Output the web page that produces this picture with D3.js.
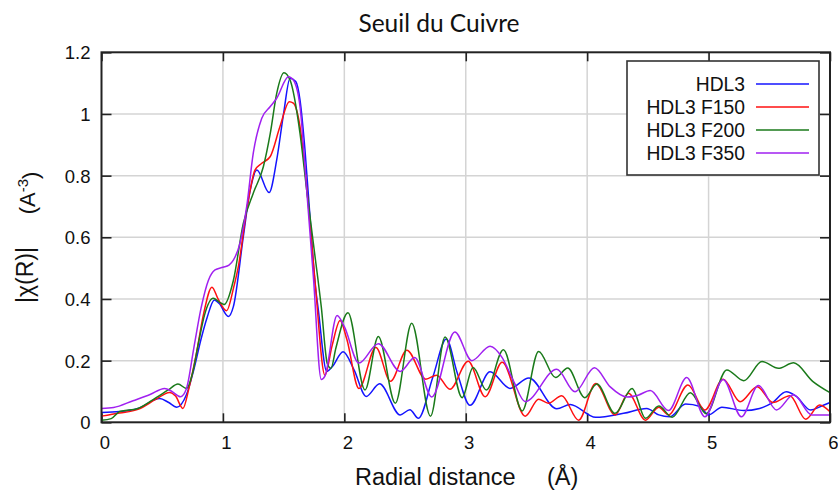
<!DOCTYPE html>
<html><head><meta charset="utf-8">
<script src="https://cdn.jsdelivr.net/npm/d3@7"></script>
<style>html,body{margin:0;padding:0;background:#fff;} svg{display:block;}</style>
</head><body>
<script>
// ---- data ----
const title = "Seuil du Cuivre";
const xTicks = [0, 1, 2, 3, 4, 5, 6];
const yTicks = [0, 0.2, 0.4, 0.6, 0.8, 1, 1.2];
const seriesNames = ["HDL3", "HDL3 F150", "HDL3 F200", "HDL3 F350"];
const seriesColors = ["#1414ff", "#ff1010", "#1a7a1a", "#a020f0"];

const hdl3R = [0,0.15,0.3,0.48,0.55,0.62,0.7,0.76,0.82,0.87,0.93,0.97,1.045,1.086,1.168,1.22,1.28,1.38,1.443,1.5,1.553,1.6,1.635,1.676,1.717,1.759,1.786,1.855,1.9,1.99,2.08,2.18,2.29,2.46,2.54,2.61,2.73,2.84,2.93,3.035,3.2,3.365,3.52,3.75,3.86,4.07,4.3,4.49,4.59,4.68,4.81,4.93,5.0,5.11,5.29,5.42,5.52,5.64,5.72,5.84,5.95,6.0];
const hdl3Y = [0.032,0.035,0.045,0.077,0.065,0.049,0.09,0.17,0.27,0.34,0.397,0.385,0.343,0.375,0.602,0.743,0.818,0.745,0.851,1.002,1.116,1.105,1.045,0.883,0.667,0.451,0.364,0.165,0.18,0.229,0.17,0.084,0.125,0.024,0.041,0.013,0.148,0.27,0.16,0.055,0.164,0.11,0.144,0.044,0.058,0.016,0.029,0.045,0.024,0.018,0.059,0.051,0.024,0.049,0.038,0.045,0.062,0.099,0.085,0.04,0.056,0.064];

const f150R = [0,0.15,0.3,0.45,0.56,0.61,0.67,0.72,0.78,0.84,0.91,0.96,1.03,1.09,1.127,1.196,1.264,1.32,1.39,1.47,1.547,1.58,1.635,1.7,1.76,1.84,1.9,1.965,2.02,2.12,2.26,2.38,2.515,2.67,2.76,2.87,3.02,3.16,3.3,3.49,3.6,3.68,3.79,3.93,4.07,4.23,4.34,4.48,4.59,4.67,4.83,4.97,5.12,5.26,5.4,5.53,5.67,5.8,5.915,6.0];
const f150Y = [0.02,0.03,0.042,0.075,0.097,0.085,0.045,0.11,0.22,0.35,0.438,0.4,0.362,0.44,0.505,0.689,0.818,0.84,0.862,0.959,1.04,1.035,0.959,0.721,0.451,0.153,0.25,0.33,0.27,0.11,0.243,0.133,0.234,0.14,0.153,0.107,0.198,0.083,0.195,0.02,0.075,0.062,0.086,0.007,0.126,0.024,0.094,0.007,0.049,0.024,0.121,0.04,0.14,0.067,0.115,0.064,0.086,0.01,0.056,0.034];

const f200R = [0,0.08,0.15,0.3,0.45,0.55,0.63,0.7,0.75,0.8,0.85,0.92,0.97,1.01,1.086,1.168,1.25,1.333,1.39,1.443,1.503,1.553,1.635,1.69,1.745,1.81,1.86,1.89,1.93,2.03,2.17,2.28,2.42,2.555,2.71,2.83,2.97,3.06,3.17,3.31,3.465,3.6,3.74,3.84,3.98,4.08,4.23,4.37,4.48,4.59,4.7,4.85,4.98,5.15,5.29,5.44,5.575,5.7,5.86,6.0];
const f200Y = [0.007,0.012,0.035,0.045,0.08,0.105,0.124,0.11,0.16,0.26,0.35,0.402,0.39,0.382,0.46,0.645,0.743,0.829,0.937,1.067,1.134,1.11,0.937,0.753,0.58,0.375,0.19,0.175,0.24,0.355,0.105,0.278,0.062,0.321,0.02,0.277,0.08,0.178,0.105,0.235,0.037,0.23,0.145,0.176,0.08,0.124,0.029,0.11,0.013,0.053,0.016,0.096,0.028,0.17,0.135,0.197,0.175,0.193,0.132,0.096];

const f350R = [0,0.1,0.26,0.4,0.52,0.58,0.65,0.7,0.76,0.82,0.88,0.935,1.0,1.05,1.086,1.14,1.196,1.25,1.32,1.39,1.443,1.54,1.58,1.635,1.69,1.745,1.81,1.84,1.94,2.0,2.12,2.28,2.46,2.58,2.72,2.91,3.05,3.2,3.3,3.39,3.49,3.75,3.9,4.06,4.19,4.33,4.42,4.52,4.67,4.82,4.97,5.12,5.27,5.41,5.56,5.7,5.85,6.0];
const f350Y = [0.045,0.048,0.07,0.09,0.11,0.1,0.083,0.11,0.24,0.37,0.46,0.494,0.503,0.51,0.526,0.58,0.7,0.873,0.986,1.024,1.051,1.121,1.11,1.024,0.753,0.472,0.139,0.15,0.346,0.31,0.192,0.255,0.165,0.21,0.082,0.293,0.2,0.247,0.21,0.137,0.067,0.172,0.099,0.177,0.115,0.082,0.088,0.103,0.038,0.145,0.018,0.139,0.018,0.119,0.04,0.089,0.024,0.024];

const seriesR = [hdl3R, f150R, f200R, f350R];
const seriesY = [hdl3Y, f150Y, f200Y, f350Y];

// ---- layout ----
const W = 838, H = 491;
const pL = 101.5, pR = 830, pT = 52.3, pB = 422.3;
const svg = d3.select("body").append("svg").attr("width", W).attr("height", H);

const x = d3.scaleLinear().domain([0, 6]).range([pL, pR]);
const y = d3.scaleLinear().domain([0, 1.2]).range([pB, pT]);

const tickFont = "'Liberation Sans', Arial, sans-serif";

// grid
const g = svg.append("g");
g.selectAll(".vg").data(xTicks.slice(1, -1)).join("line")
  .attr("x1", d => x(d)).attr("x2", d => x(d)).attr("y1", pT).attr("y2", pB)
  .attr("stroke", "#d4d4d4").attr("stroke-width", 1.5);
g.selectAll(".hg").data(yTicks.slice(1, -1)).join("line")
  .attr("y1", d => y(d)).attr("y2", d => y(d)).attr("x1", pL).attr("x2", pR)
  .attr("stroke", "#d4d4d4").attr("stroke-width", 1.5);

// axes via d3-axis (inward ticks)
const axB = d3.axisBottom(x).tickValues(xTicks).tickSize(-9).tickFormat(d3.format("d"));
const axT = d3.axisTop(x).tickValues(xTicks).tickSize(-9).tickFormat("");
const axL = d3.axisLeft(y).tickValues(yTicks).tickSize(-10).tickFormat(d => d === 0 ? "0" : String(d));
const axR = d3.axisRight(y).tickValues(yTicks).tickSize(-10).tickFormat("");

function styleAxis(sel) {
  sel.select(".domain").remove();
  sel.selectAll(".tick line").attr("stroke", "#222").attr("stroke-width", 1.6);
  sel.selectAll("text").attr("fill", "#111").style("font-family", tickFont).style("font-size", "18.5px");
}
const gB = svg.append("g").attr("transform", `translate(0,${pB})`).call(axB).call(styleAxis);
gB.selectAll("text").attr("y", 0).attr("dy", "1.45em").attr("dx", 3);
svg.append("g").attr("transform", `translate(0,${pT})`).call(axT).call(styleAxis);
const gL = svg.append("g").attr("transform", `translate(${pL},0)`).call(axL).call(styleAxis);
gL.selectAll("text").attr("x", -11).attr("dy", "0.36em");
svg.append("g").attr("transform", `translate(${pR},0)`).call(axR).call(styleAxis);

// series
const line = d3.line().x(d => x(d[0])).y(d => y(d[1])).curve(d3.curveMonotoneX);
seriesNames.forEach((name, i) => {
  const pts = seriesR[i].map((r, j) => [r, seriesY[i][j]]);
  svg.append("path").datum(pts).attr("d", line)
    .attr("fill", "none").attr("stroke", seriesColors[i]).attr("stroke-width", 1.5)
    .attr("stroke-linejoin", "round");
});

// frame
svg.append("rect").attr("x", pL).attr("y", pT).attr("width", pR - pL).attr("height", pB - pT)
  .attr("fill", "none").attr("stroke", "#222").attr("stroke-width", 2);

// legend
const lg = svg.append("g");
lg.append("rect").attr("x", 627).attr("y", 61).attr("width", 192).attr("height", 114)
  .attr("fill", "#fff").attr("stroke", "#333").attr("stroke-width", 1.6);
const rowY = d3.scalePoint().domain(seriesNames).range([84, 153]);
seriesNames.forEach((name, i) => {
  lg.append("text").attr("x", 745).attr("y", rowY(name)).attr("dy", "0.36em")
    .attr("text-anchor", "end").style("font-family", tickFont).style("font-size", "19.3px")
    .attr("fill", "#111").text(name);
  lg.append("line").attr("x1", 756).attr("x2", 809).attr("y1", rowY(name)).attr("y2", rowY(name))
    .attr("stroke", seriesColors[i]).attr("stroke-width", 1.5);
});

// title
svg.append("text").attr("x", 439).attr("y", 32).attr("text-anchor", "middle")
  .style("font-family", "Lato, 'Open Sans', sans-serif").style("font-size", "24.5px")
  .attr("fill", "#111").text(title);

// x label
const xl = svg.append("text").attr("x", 355).attr("y", 485)
  .style("font-family", tickFont).style("font-size", "23.5px").attr("fill", "#111");
xl.append("tspan").text("Radial distance");
xl.append("tspan").attr("x", 547).text("(Å)");

// y label
svg.append("text").attr("transform", "translate(33,275) rotate(-90)").attr("text-anchor", "middle")
  .style("font-family", tickFont).style("font-size", "23px").attr("fill", "#111").text("|χ(R)|");
const yl2 = svg.append("text").attr("transform", "translate(35,193) rotate(-90)").attr("text-anchor", "middle")
  .style("font-family", tickFont).style("font-size", "22px").attr("fill", "#111");
yl2.append("tspan").text("(A");
yl2.append("tspan").attr("dy", "-0.45em").style("font-size", "15px").text("-3");
yl2.append("tspan").attr("dy", "0.45em").text(")");
</script>
</body></html>
